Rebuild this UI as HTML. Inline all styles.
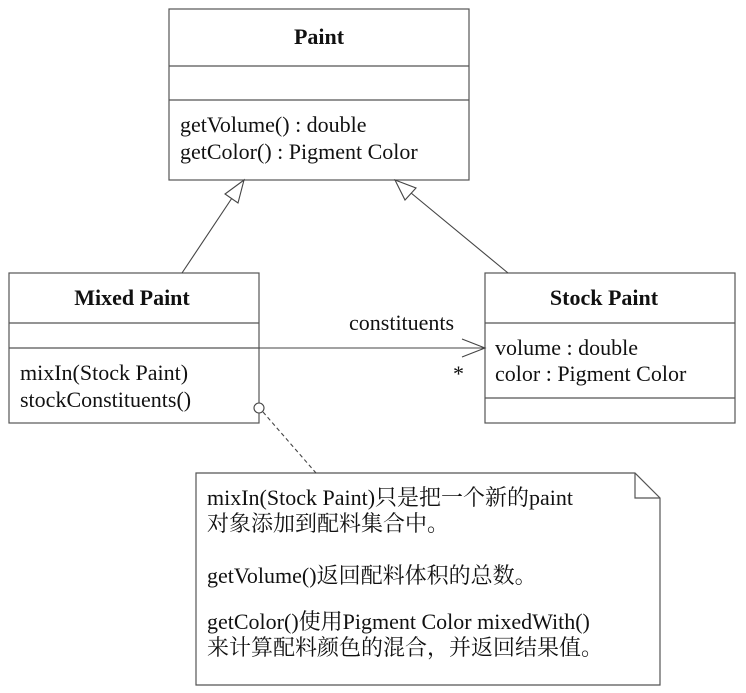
<!DOCTYPE html>
<html><head><meta charset="utf-8"><style>
html,body{margin:0;padding:0;background:#fff}
svg{display:block}
text{font-family:"Liberation Serif","Noto Serif CJK SC",serif;font-size:22px;fill:#111}
.b{font-weight:bold}
</style></head><body>
<svg width="746" height="693" viewBox="0 0 746 693" xmlns="http://www.w3.org/2000/svg">
<g fill="#fff" stroke="#555" stroke-width="1.2">
<rect x="169" y="9" width="300" height="171"/>
<line x1="169" y1="66" x2="469" y2="66"/>
<line x1="169" y1="100" x2="469" y2="100"/>
<rect x="9" y="273" width="250" height="150"/>
<line x1="9" y1="323" x2="259" y2="323"/>
<line x1="9" y1="348" x2="259" y2="348"/>
<rect x="485" y="273" width="250" height="150"/>
<line x1="485" y1="323" x2="735" y2="323"/>
<line x1="485" y1="398" x2="735" y2="398"/>
<path d="M196 473 H635 L660 498 V685 H196 Z"/>
<path d="M635 473 V498 H660" fill="none"/>
</g>
<g stroke="#444" stroke-width="1.1" fill="none">
<line x1="182" y1="273" x2="236" y2="192"/>
<polygon points="244,180 238,203 225,194" fill="#fff"/>
<line x1="508" y1="273" x2="405" y2="188"/>
<polygon points="395,180 405,200 416,188" fill="#fff"/>
<line x1="259" y1="348" x2="485" y2="348"/>
<polyline points="462,339 485,348 462,357"/>
<circle cx="259" cy="408" r="5" fill="#fff"/>
<line x1="263" y1="412" x2="316" y2="473" stroke-dasharray="4,3"/>
</g>
<text x="319" y="44" text-anchor="middle" class="b">Paint</text>
<text x="180" y="132">getVolume() : double</text>
<text x="180" y="159">getColor() : Pigment Color</text>
<text x="132" y="305" text-anchor="middle" class="b">Mixed Paint</text>
<text x="20" y="380">mixIn(Stock Paint)</text>
<text x="20" y="407">stockConstituents()</text>
<text x="604" y="305" text-anchor="middle" class="b">Stock Paint</text>
<text x="495" y="355">volume : double</text>
<text x="495" y="381">color : Pigment Color</text>
<text x="349" y="330">constituents</text>
<text x="453" y="381">*</text>
<text x="207" y="505">mixIn(Stock Paint)只是把一个新的paint</text>
<text x="207" y="531">对象添加到配料集合中。</text>
<text x="207" y="583">getVolume()返回配料体积的总数。</text>
<text x="207" y="629">getColor()使用Pigment Color mixedWith()</text>
<text x="207" y="655">来计算配料颜色的混合，并返回结果值。</text>
</svg>
</body></html>
